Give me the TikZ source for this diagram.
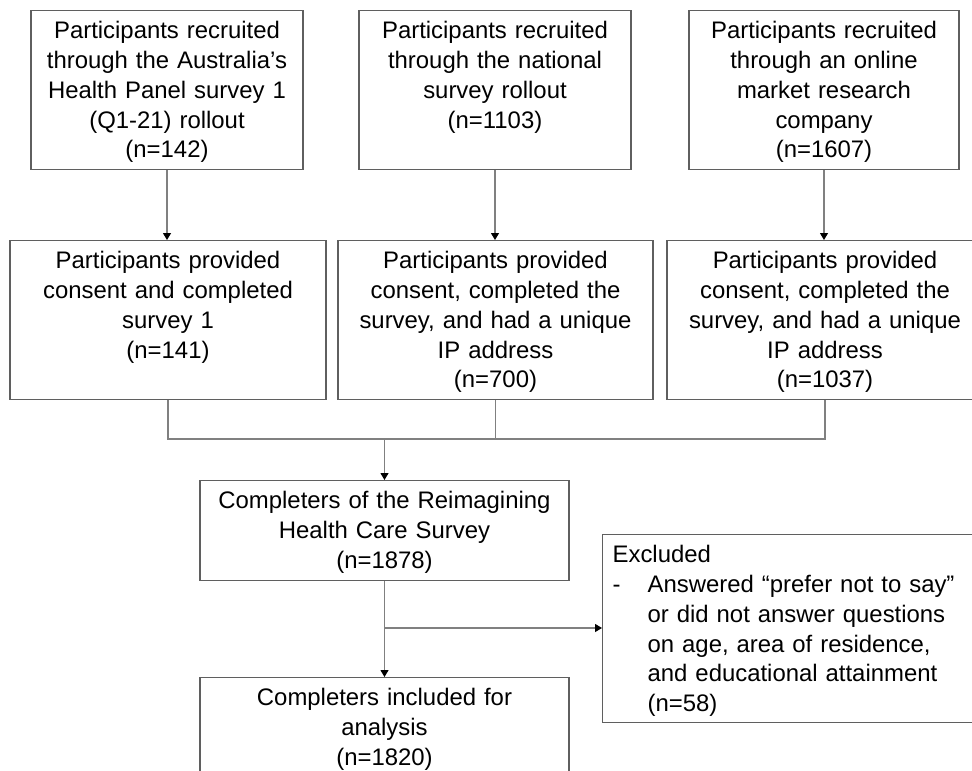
\documentclass[tikz,border=0pt]{standalone}
\usepackage{fontspec}
\setmainfont{Liberation Sans}
\usetikzlibrary{arrows.meta}
\definecolor{linegray}{HTML}{808080}
\definecolor{boxgray}{HTML}{5F5F5F}
\newcommand\flowfont{\fontsize{23.9}{29.7}\selectfont}
\tikzset{
	box/.style={draw=boxgray, line width=1.3pt, font=\flowfont, inner xsep=4pt, inner ysep=13pt, text height=15.3pt, anchor=north, align=center},
	toprow/.style={box, text width=264pt, text depth=117.7pt},
	midrow/.style={box, text width=308pt, text depth=117.7pt},
	result/.style={box, text width=361pt},
	flow/.style={draw=linegray, line width=1.1pt}
}
\begin{document}
\begin{tikzpicture}[>={Triangle[width=8pt,length=7pt,color=black]},x=1pt,y=-1pt]
		\useasboundingbox (0,0) rectangle (972,771);
		\clip (0,0) rectangle (972,771);
		\node[toprow] (a1) at (167,10) {Participants recruited\\ through the Australia's\\ Health Panel survey 1\\ (Q1-21) rollout\\ (n=142)};
		\node[toprow] (b1) at (495,10) {Participants recruited\\ through the national\\ survey rollout\\ (n=1103)};
		\node[toprow, text width=262pt] (c1) at (824,10) {Participants recruited\\ through an online\\ market research\\ company\\ (n=1607)};
		\node[midrow] (a2) at (168,240) {Participants provided\\ consent and completed\\ survey 1\\ (n=141)};
		\node[midrow, text width=307pt] (b2) at (495.5,240) {Participants provided\\ consent, completed the\\ survey, and had a unique\\ IP address\\ (n=700)};
		\node[midrow] (c2) at (825,240) {Participants provided\\ consent, completed the\\ survey, and had a unique\\ IP address\\ (n=1037)};
		\node[result, text depth=58.7pt] (mid) at (384.5,480) {Completers of the Reimagining\\ Health Care Survey\\ (n=1878)};
		\node[result, text depth=88.7pt] (fin) at (384.5,677) {Completers included for\\ analysis\\ (n=1820)};
		\node[box, anchor=north west, inner xsep=10pt, text width=370pt, text depth=146.7pt, align=left] (excl) at (602,534) {Excluded\\ \makebox[35pt][l]{-}Answered “prefer not to say”\\ \hspace*{35pt}or did not answer questions\\ \hspace*{35pt}on age, area of residence,\\ \hspace*{35pt}and educational attainment\\ \hspace*{35pt}(n=58)};
		\coordinate (j) at (384.5,439);
		\coordinate (k) at (384.5,628);
		\draw[flow,->] (a1.south) -- (a1.south |- a2.north);
		\draw[flow,->] (b1.south) -- (b1.south |- b2.north);
		\draw[flow,->] (c1.south) -- (c1.south |- c2.north);
		\draw[flow] (a2.south) |- (j);
		\draw[flow] (c2.south) |- (j);
		\draw[flow] (b2.south) -- (b2.south |- j);
		\draw[flow,->] (j) -- (mid.north);
		\draw[flow,->] (mid.south) -- (fin.north);
		\draw[flow,->] (k) -- (k -| excl.west);
\end{tikzpicture}
\end{document}
